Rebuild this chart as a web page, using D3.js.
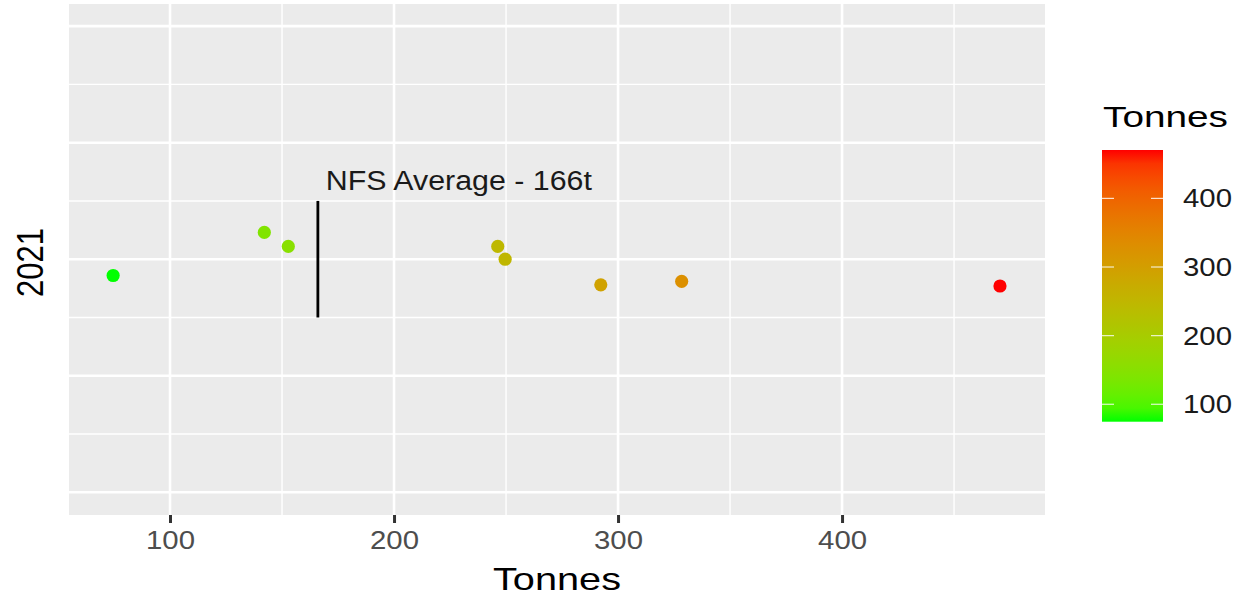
<!DOCTYPE html>
<html>
<head>
<meta charset="utf-8">
<script src="https://cdn.jsdelivr.net/npm/d3@7"></script>
<style>
  html, body { margin: 0; padding: 0; background: #fff; }
  svg { display: block; font-family: "Liberation Sans", Arial, sans-serif; }
</style>
</head>
<body>
<svg id="chart" width="1234" height="600"></svg>
<script>
// ---- data ----
const tonnes = [74.6, 142.1, 152.8, 246.3, 249.6, 292.3, 328.4, 470.5];
const jitterYear = [2020.986, 2021.023, 2021.011, 2021.011, 2021.000, 2020.978, 2020.981, 2020.977];
const xMajorTicks = [100, 200, 300, 400];
const xMinorTicks = [150, 250, 350, 450];
const yMajorTicks = [2020.8, 2020.9, 2021.0, 2021.1, 2021.2];
const yMinorTicks = [2020.85, 2020.95, 2021.05, 2021.15];
const legendTicks = [100, 200, 300, 400];
const nfsAverage = 166;
const nfsSegment = [2020.95, 2021.05];
const nfsLabel = "NFS Average - 166t";
const xTitle = "Tonnes";
const yTitle = "2021";
const legendTitle = "Tonnes";

// ---- layout ----
const svg = d3.select("#chart");
const panel = { left: 69, right: 1045, top: 4, bottom: 515 };

const x = d3.scaleLinear().domain([54.9, 490.6]).range([panel.left, panel.right]);
const y = d3.scaleLinear().domain([2020.7805, 2021.219]).range([panel.bottom, panel.top]);
const color = d3.scaleLinear()
  .domain([d3.min(tonnes), d3.max(tonnes)])
  .range(["#00ff00", "#ff0000"])
  .interpolate(d3.interpolateLab);

// panel background
svg.append("rect")
  .attr("x", panel.left).attr("y", panel.top)
  .attr("width", panel.right - panel.left).attr("height", panel.bottom - panel.top)
  .attr("fill", "#ebebeb");

const grid = svg.append("g");
// minor grid
grid.selectAll(".xmin").data(xMinorTicks).join("line")
  .attr("x1", d => x(d)).attr("x2", d => x(d))
  .attr("y1", panel.top).attr("y2", panel.bottom)
  .attr("stroke", "#fff").attr("stroke-width", 1.4);
grid.selectAll(".ymin").data(yMinorTicks).join("line")
  .attr("y1", d => y(d)).attr("y2", d => y(d))
  .attr("x1", panel.left).attr("x2", panel.right)
  .attr("stroke", "#fff").attr("stroke-width", 1.4);
// major grid
grid.selectAll(".xmaj").data(xMajorTicks).join("line")
  .attr("x1", d => x(d)).attr("x2", d => x(d))
  .attr("y1", panel.top).attr("y2", panel.bottom)
  .attr("stroke", "#fff").attr("stroke-width", 2.6);
grid.selectAll(".ymaj").data(yMajorTicks).join("line")
  .attr("y1", d => y(d)).attr("y2", d => y(d))
  .attr("x1", panel.left).attr("x2", panel.right)
  .attr("stroke", "#fff").attr("stroke-width", 2.6);

// NFS average segment
svg.append("line")
  .attr("x1", x(nfsAverage)).attr("x2", x(nfsAverage))
  .attr("y1", y(nfsSegment[0])).attr("y2", y(nfsSegment[1]))
  .attr("stroke", "#000").attr("stroke-width", 2.8);

svg.append("text")
  .attr("x", x(nfsAverage) + 8).attr("y", 190)
  .attr("font-size", 27).attr("fill", "#1a1a1a")
  .attr("textLength", 266).attr("lengthAdjust", "spacingAndGlyphs")
  .text(nfsLabel);

// points
svg.append("g").selectAll("circle").data(tonnes).join("circle")
  .attr("cx", d => x(d))
  .attr("cy", (d, i) => y(jitterYear[i]))
  .attr("r", 6.6)
  .attr("fill", d => color(d));

// x axis
const xAxis = svg.append("g")
  .attr("transform", `translate(0,${panel.bottom})`)
  .call(d3.axisBottom(x).tickValues(xMajorTicks).tickSize(8).tickPadding(8).tickFormat(d3.format("d")));
xAxis.select(".domain").remove();
xAxis.selectAll(".tick line").attr("stroke", "#333").attr("stroke-width", 3);
xAxis.selectAll(".tick text")
  .attr("font-size", 25.5).attr("fill", "#4d4d4d")
  .attr("font-family", "Liberation Sans, Arial, sans-serif")
  .attr("textLength", 49).attr("lengthAdjust", "spacingAndGlyphs");

// axis titles
svg.append("text")
  .attr("x", (panel.left + panel.right) / 2).attr("y", 590)
  .attr("text-anchor", "middle").attr("font-size", 32).attr("fill", "#000")
  .attr("textLength", 128).attr("lengthAdjust", "spacingAndGlyphs")
  .text(xTitle);

svg.append("text")
  .attr("transform", `translate(43,${(panel.top + panel.bottom) / 2 + 3}) scale(1.2,1) rotate(-90)`)
  .attr("text-anchor", "middle").attr("font-size", 31).attr("fill", "#000")
  .text(yTitle);

// legend
const legend = { x: 1102, w: 61, top: 150, bottom: 421.7 };
const ly = d3.scaleLinear().domain([d3.min(tonnes), d3.max(tonnes)]).range([legend.bottom, legend.top]);

const defs = svg.append("defs");
const grad = defs.append("linearGradient").attr("id", "lg")
  .attr("x1", 0).attr("y1", 1).attr("x2", 0).attr("y2", 0);
d3.range(0, 1.0001, 0.05).forEach(t => {
  grad.append("stop").attr("offset", t)
    .attr("stop-color", color(d3.min(tonnes) + t * (d3.max(tonnes) - d3.min(tonnes))));
});
svg.append("rect")
  .attr("x", legend.x).attr("y", legend.top)
  .attr("width", legend.w).attr("height", legend.bottom - legend.top)
  .attr("fill", "url(#lg)");

const lt = svg.append("g");
lt.selectAll(".l1").data(legendTicks).join("line")
  .attr("x1", legend.x).attr("x2", legend.x + 12)
  .attr("y1", d => ly(d)).attr("y2", d => ly(d))
  .attr("stroke", "#fff").attr("stroke-width", 1.2).attr("opacity", 0.8);
lt.selectAll(".l2").data(legendTicks).join("line")
  .attr("x1", legend.x + legend.w - 12).attr("x2", legend.x + legend.w)
  .attr("y1", d => ly(d)).attr("y2", d => ly(d))
  .attr("stroke", "#fff").attr("stroke-width", 1.2).attr("opacity", 0.8);
lt.selectAll("text").data(legendTicks).join("text")
  .attr("x", 1183).attr("y", d => ly(d) + 9)
  .attr("font-size", 25.5).attr("fill", "#1a1a1a")
  .attr("textLength", 49).attr("lengthAdjust", "spacingAndGlyphs")
  .text(d => d);

svg.append("text")
  .attr("x", 1103).attr("y", 127)
  .attr("font-size", 30).attr("fill", "#000")
  .attr("textLength", 125).attr("lengthAdjust", "spacingAndGlyphs")
  .text(legendTitle);
</script>
</body>
</html>
